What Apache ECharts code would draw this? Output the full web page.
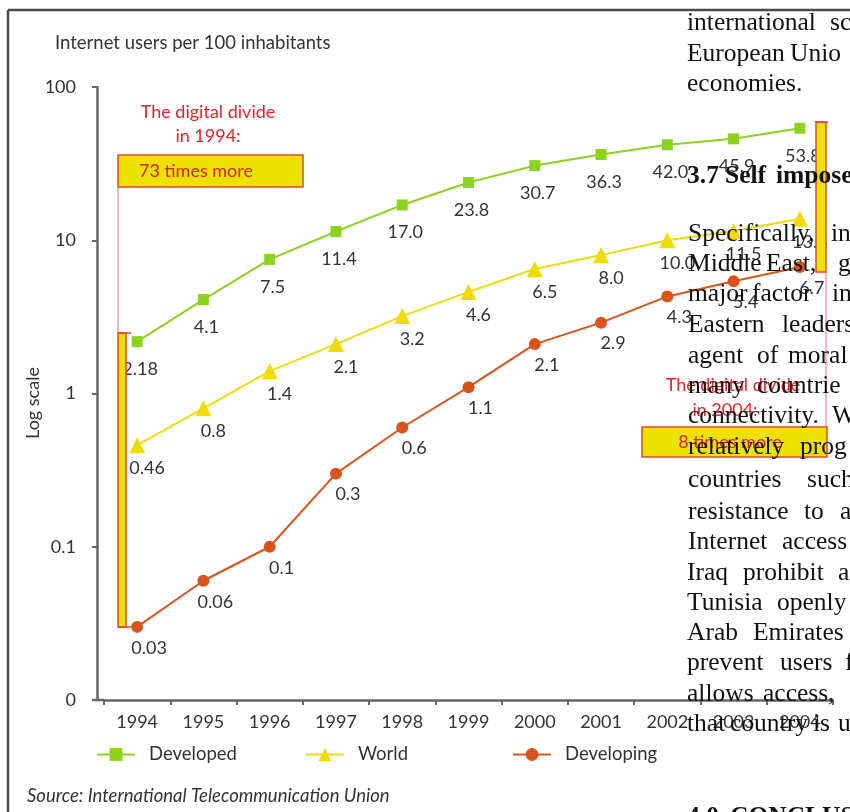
<!DOCTYPE html>
<html><head><meta charset="utf-8">
<script src="https://cdn.jsdelivr.net/npm/echarts@6/dist/echarts.min.js"></script>
<style>html,body{margin:0;padding:0;background:#fff}#c{width:850px;height:812px}</style>
</head><body><div id="c"></div>
<script>
const years = ['1994','1995','1996','1997','1998','1999','2000','2001','2002','2003','2004'];
const developed = [2.18, 4.1, 7.5, 11.4, 17.0, 23.8, 30.7, 36.3, 42.0, 45.9, 53.8];
const world = [0.46, 0.8, 1.4, 2.1, 3.2, 4.6, 6.5, 8.0, 10.0, 11.5, 13.8];
const developing = [0.03, 0.06, 0.1, 0.3, 0.6, 1.1, 2.1, 2.9, 4.3, 5.4, 6.7];
const yTickLabels = ['0', '0.1', '1', '10', '100'];
const seriesNames = ['Developed', 'World', 'Developing'];

const FONT = 'Lato';
const AX = '#666';
const C_DEV = '#8dd21e', C_WORLD = '#efdb0a', C_DEVG = '#d9541a';
const RED = '#e3262a', BORDER = '#e0482c', YEL = '#ece100';

function fmt(v){ return Number.isInteger(v) ? v.toFixed(1) : String(v); }

// document text overlay (words with x positions), baseline y
const docLines = [
  [32, [['international',687],['sc',830]]],
  [63, [['European',687],['Unio',790]]],
  [93, [['economies.',687]]],
  [185, [['3.7',687],['Self',725],['impose',776]], true],
  [243, [['Specifically,',688],['in',831]]],
  [273, [['Middle',688],['East,',766],['g',838]]],
  [303, [['major',688],['factor',752],['in',832]]],
  [334, [['Eastern',688],['leaders',782]]],
  [365, [['agent',688],['of',757],['moral',788]]],
  [395, [['many',688],['countrie',757]]],
  [425, [['connectivity.',688],['W',832]]],
  [456, [['relatively',688],['prog',800]]],
  [489, [['countries',688],['such',807]]],
  [521, [['resistance',688],['to',804],['a',840]]],
  [551, [['Internet',688],['access',782]]],
  [582, [['Iraq',687],['prohibit',743],['a',838]]],
  [612, [['Tunisia',687],['openly',777]]],
  [642, [['Arab',687],['Emirates',753]]],
  [672, [['prevent',687],['users',780],['f',845]]],
  [703, [['allows',687],['access,',763]]],
  [733, [['that',687],['country',730],['is',813],['u',838]]],
  [826, [['4.0',687],['CONCLUSION',730]], true]
];

function txt(x, y, text, o){
  o = o || {};
  return {type:'text', x:x, y:y, z:o.z||50, rotation:o.rotation||0, silent:true,
    style:{text:text, x:0, y:0, fill:o.fill||'#333', font:o.font||('18px '+FONT),
      textAlign:o.align||'left', align:o.align||'left', textVerticalAlign:'middle', verticalAlign:'middle'}};
}
function line(x1,y1,x2,y2,stroke,w,z){
  return {type:'line', z:z||40, silent:true, shape:{x1:x1,y1:y1,x2:x2,y2:y2}, style:{stroke:stroke, lineWidth:w}};
}
function rect(x,y,w,h,z){
  return {type:'rect', z:z||40, silent:true, shape:{x:x,y:y,width:w,height:h}, style:{fill:YEL, stroke:BORDER, lineWidth:1.5}};
}

const graphics = [
  line(8,10,850,10,'#4a4a4a',2.5,60),
  line(8,10,8,812,'#4a4a4a',2.5,60),
  line(92,700,104,700,AX,2.5,10),
  txt(55,43,'Internet users per 100 inhabitants',{font:'18.5px '+FONT}),
  txt(33,403,'Log scale',{rotation:Math.PI/2, align:'center'}),
  txt(27,796,'Source: International Telecommunication Union',{font:'italic 18.5px '+FONT}),
  // 1994 annotation
  txt(208,112,'The digital divide',{fill:RED, align:'center'}),
  txt(208,136,'in 1994:',{fill:RED, align:'center'}),
  rect(118,155,185,32),
  txt(196,171,'73 times more',{fill:'#d4251c', align:'center'}),
  line(118,187,118,333,'#e87070',1),
  rect(118,333,8,294),
  line(118,333,131,333,BORDER,1.5),
  line(118,627,131,627,BORDER,1.5),
  // 2004 annotation
  rect(816,122,10,150),
  line(815,122,828,122,BORDER,1.5),
  line(826,272,826,427,'#e87070',1),
  txt(733,385,'The digital divide',{fill:RED, align:'center'}),
  txt(725,410,'in 2004:',{fill:RED, align:'center'}),
  rect(642,427,185,30),
  txt(730,442,'8 times more',{fill:'#d4251c', align:'center'})
];
docLines.forEach(function(l){
  const f = (l[2] ? 'bold ' : '') + '25.5px "Liberation Serif"';
  l[1].forEach(function(w){ graphics.push(txt(w[1], l[0]-9, w[0], {fill:'#111', font:f, z:100})); });
});

function mkSeries(name, data, color, symbol, size, off){
  return {name:name, type:'line', data:data, symbol:symbol, symbolSize:size,
    lineStyle:{color:color, width:2}, itemStyle:{color:color},
    label:{show:true, position:'bottom', distance:5, offset:off, color:'#333',
      fontFamily:FONT, fontSize:18, formatter:function(p){return fmt(p.value);}},
    z:3};
}

function legendAt(name, left){
  return {data:[name], left:left, top:745, padding:0, itemWidth:38, itemHeight:16,
    textStyle:{fontFamily:FONT, fontSize:18.5, color:'#333', padding:[0,0,0,9]}};
}

const chart = echarts.init(document.getElementById('c'), null, {renderer:'canvas'});
chart.setOption({
  animation:false,
  backgroundColor:'#fff',
  grid:{left:104, right:17, top:87, bottom:112, containLabel:false, outerBoundsMode:'none'},
  legend:[legendAt(seriesNames[0],96), legendAt(seriesNames[1],305), legendAt(seriesNames[2],512)],
  xAxis:{type:'category', data:years, boundaryGap:true,
    axisLine:{show:true, lineStyle:{color:AX, width:2.5}},
    axisTick:{show:true, length:5, lineStyle:{color:AX, width:2}},
    axisLabel:{margin:13, color:'#333', fontFamily:FONT, fontSize:18},
    splitLine:{show:false}},
  yAxis:{type:'log', logBase:10, min:0.01, max:100, offset:7,
    axisLine:{show:true, lineStyle:{color:AX, width:2.5}},
    axisTick:{show:true, length:5, lineStyle:{color:AX, width:2}},
    minorTick:{show:false},
    axisLabel:{margin:21, color:'#333', fontFamily:FONT, fontSize:18,
      formatter:function(v){ const i = Math.round(Math.log10(v)) + 2; return yTickLabels[i] !== undefined ? yTickLabels[i] : ''; }},
    splitLine:{show:false}},
  series:[
    mkSeries(seriesNames[2], developing, C_DEVG, 'circle', 12, [12,1]),
    mkSeries(seriesNames[1], world, C_WORLD, 'triangle', 16, [10,1]),
    mkSeries(seriesNames[0], developed, C_DEV, 'rect', 11, [3,8])
  ],
  graphic:{elements:graphics}
});
</script>
</body></html>
